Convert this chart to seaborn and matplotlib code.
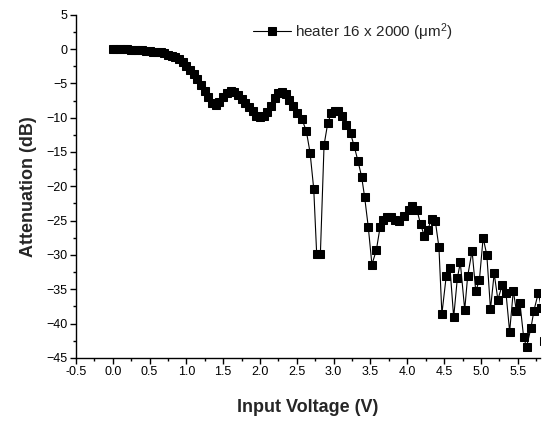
import numpy as np
import pandas as pd
import matplotlib
matplotlib.use('Agg')
import matplotlib.pyplot as plt
from matplotlib.ticker import MultipleLocator
import seaborn as sns

# dense part of the sweep (0.05 V steps)
volt_low = [0.00, 0.05, 0.10, 0.15, 0.20, 0.25, 0.30, 0.35, 0.40, 0.45,
            0.50, 0.55, 0.60, 0.65, 0.70, 0.75, 0.80, 0.85, 0.90, 0.95,
            1.00, 1.05, 1.10, 1.15, 1.20, 1.25, 1.30, 1.35, 1.40, 1.45,
            1.50, 1.55, 1.60, 1.65, 1.70, 1.75, 1.80, 1.85, 1.90, 1.95,
            2.00, 2.05, 2.10, 2.15, 2.20, 2.25, 2.30, 2.35, 2.40, 2.45, 2.50]
att_low = [0.0, 0.0, 0.0, 0.0, -0.05, -0.1, -0.1, -0.15, -0.2, -0.3,
           -0.35, -0.4, -0.45, -0.5, -0.6, -0.8, -1.0, -1.2, -1.5, -1.9,
           -2.4, -3.0, -3.7, -4.4, -5.2, -6.1, -7.0, -7.8, -8.1, -7.7,
           -7.0, -6.4, -6.1, -6.2, -6.7, -7.3, -7.9, -8.5, -9.1, -9.7,
           -9.9, -9.8, -9.2, -8.3, -7.2, -6.4, -6.2, -6.6, -7.4, -8.3, -9.3]

# sparse / noisy part read point by point
volt_high = [2.57, 2.63, 2.68, 2.73, 2.77, 2.82, 2.87, 2.92, 2.97, 3.02,
             3.06, 3.12, 3.17, 3.23, 3.28, 3.33, 3.38, 3.42, 3.47, 3.52,
             3.58, 3.63, 3.67, 3.73, 3.78, 3.84, 3.89, 3.95, 4.02, 4.07,
             4.13, 4.18, 4.23, 4.28, 4.33, 4.38, 4.43, 4.47, 4.53, 4.58,
             4.63, 4.68, 4.72, 4.78, 4.82, 4.88, 4.93, 4.98, 5.03, 5.08,
             5.13, 5.18, 5.23, 5.29, 5.34, 5.39, 5.44, 5.48, 5.53, 5.58,
             5.62, 5.68, 5.72, 5.78, 5.82, 5.86]
att_high = [-10.2, -12.0, -15.1, -20.4, -29.9, -29.9, -14.0, -10.8, -9.3, -9.0,
            -9.1, -9.8, -11.0, -12.3, -14.2, -16.3, -18.6, -21.5, -25.9, -31.4,
            -29.3, -26.0, -24.9, -24.5, -24.5, -24.9, -25.0, -24.4, -23.4, -22.8,
            -23.4, -25.5, -27.2, -26.3, -24.7, -25.0, -28.9, -38.6, -33.0, -31.9,
            -39.1, -33.4, -31.1, -38.0, -33.1, -29.4, -35.3, -33.6, -27.5, -30.0,
            -37.9, -32.7, -36.5, -34.4, -35.5, -41.2, -35.2, -38.1, -37.0, -42.0,
            -43.4, -40.6, -38.1, -35.5, -37.7, -42.5]

label = r'heater 16 x 2000 ($\mu$m$^2$)'


def main():
    df = pd.DataFrame({'voltage': volt_low + volt_high,
                       'attenuation': att_low + att_high})

    sns.set_style('ticks')
    plt.rcParams['font.family'] = ['Liberation Sans', 'DejaVu Sans']
    plt.rcParams['mathtext.fontset'] = 'custom'
    plt.rcParams['mathtext.rm'] = 'Liberation Sans'
    plt.rcParams['mathtext.it'] = 'Liberation Sans'

    fig = plt.figure(figsize=(5.42, 4.21), dpi=100)
    ax = fig.add_axes([0.140, 0.150, 0.856, 0.815])

    sns.lineplot(data=df, x='voltage', y='attenuation', ax=ax, sort=False,
                 color='black', linewidth=0.8, marker='s', markersize=5.6,
                 markeredgecolor='black', label=label)

    ax.set_xlim(-0.5, 5.8)
    ax.set_ylim(-45, 5)
    ax.xaxis.set_major_locator(MultipleLocator(0.5))
    ax.xaxis.set_minor_locator(MultipleLocator(0.25))
    ax.yaxis.set_major_locator(MultipleLocator(5))
    ax.yaxis.set_minor_locator(MultipleLocator(2.5))
    ax.set_xticklabels([f'{v:.1f}' for v in ax.get_xticks()])
    ax.tick_params(which='major', direction='out', length=4, width=1,
                   labelsize=9, pad=2, color='black', labelcolor='black')
    ax.tick_params(which='minor', direction='out', length=2.5, width=1,
                   color='black')
    for s in ['top', 'right']:
        ax.spines[s].set_visible(False)
    for s in ['left', 'bottom']:
        ax.spines[s].set_color('black')
        ax.spines[s].set_linewidth(1)

    ax.set_xlabel('Input Voltage (V)', fontsize=13, fontweight='bold', labelpad=15)
    ax.set_ylabel('Attenuation (dB)', fontsize=13, fontweight='bold', labelpad=7)

    ax.legend(loc='center left', bbox_to_anchor=(0.381, 0.95), frameon=False,
              fontsize=11, borderpad=0, borderaxespad=0, handlelength=2.5,
              handletextpad=0.3)

    fig.savefig('out.png', dpi=100)


if __name__ == '__main__':
    main()
